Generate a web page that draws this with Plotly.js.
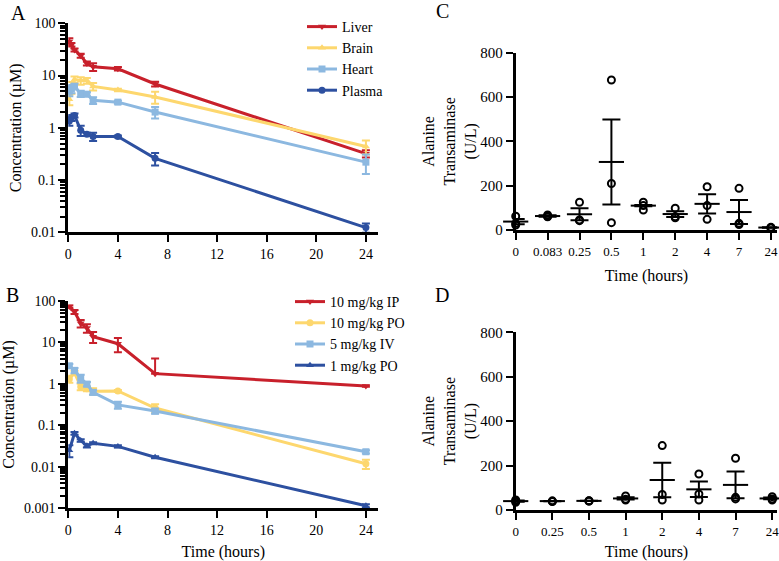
<!DOCTYPE html>
<html><head><meta charset="utf-8">
<script src="https://cdn.plot.ly/plotly-3.0.1.min.js"></script>
<style>html,body{margin:0;padding:0;background:#fff}#chart{width:779px;height:561px}</style>
</head><body><div id="chart"></div>
<script>
// ---------- Panel A data ----------
const timesA = [0.083, 0.25, 0.5, 1, 1.5, 2, 4, 7, 24];
const liver = [45, 39, 31, 24, 17, 14.7, 13.5, 6.9, 0.32];
const liverErr = [7, 3, 2, 2, 1.5, 2.5, 1, 0.7, 0.05];
const brain = [3.5, 6, 8.4, 8, 8, 6.2, 5.3, 3.9, 0.44];
const brainErr = [0.8, 1.5, 1.2, 1.3, 1, 1, 0.3, 1.0, 0.13];
const heart = [5, 5.6, 6.2, 4.5, 4.4, 3.35, 3.1, 2.0, 0.22];
const heartErr = [1.0, 1, 0.8, 0.6, 0.4, 0.5, 0.2, 0.5, 0.09];
const plasma = [1.35, 1.55, 1.72, 0.9, 0.75, 0.68, 0.68, 0.26, 0.0123];
const plasmaErr = [0.25, 0.2, 0.15, 0.2, 0.05, 0.12, 0.03, 0.07, 0.0025];
const namesA = ['Liver', 'Brain', 'Heart', 'Plasma'];

// ---------- Panel B data ----------
const timesB = [0.083, 0.5, 1, 1.5, 2, 4, 7, 24];
const ip10 = [72, 54, 28.5, 22, 13.6, 9.2, 1.75, 0.88];
const ip10ErrUp = [5, 6, 6, 5, 4, 3.5, 2.3, 0.03];
const ip10ErrDown = [5, 6, 6, 5, 4, 3.5, 0, 0.03];
const po10 = [1.3, 1.85, 0.85, 0.76, 0.66, 0.67, 0.26, 0.0118];
const po10Err = [0.25, 0.2, 0.15, 0.1, 0.12, 0.04, 0.06, 0.003];
const iv5 = [2.7, 2.1, 1.35, 0.98, 0.62, 0.31, 0.22, 0.023];
const iv5Err = [0.3, 0.3, 0.3, 0.12, 0.08, 0.06, 0.03, 0.002];
const po1 = [0.025, 0.064, 0.043, 0.032, 0.037, 0.031, 0.017, 0.00115];
const po1Err = [0.008, 0.005, 0.003, 0.003, 0.002, 0.002, 0.001, 0.0001];
const namesB = ['10 mg/kg IP', '10 mg/kg PO', '5 mg/kg IV', '1 mg/kg PO'];

// ---------- Panel C data (ALT, U/L) ----------
const catsC = ['0', '0.083', '0.25', '0.5', '1', '2', '4', '7', '24'];
const ptsC = [[62, 30, 22], [68, 60, 62], [125, 45, 42], [677, 210, 33], [125, 90, 110], [98, 60, 55], [195, 110, 48], [188, 30, 25], [12, 10, 10]];
const meanC = [38, 63, 71, 307, 110, 72, 118, 81, 11];
const semC = [12, 3, 27, 192, 3, 13, 43, 54, 1];

// ---------- Panel D data (ALT, U/L) ----------
const catsD = ['0', '0.25', '0.5', '1', '2', '4', '7', '24'];
const ptsD = [[45, 40, 35], [40, 40, 38], [42, 40, 40], [63, 45, 48], [290, 70, 45], [162, 72, 45], [233, 57, 50], [60, 45, 50]];
const meanD = [40, 40, 41, 52, 135, 93, 113, 52];
const semD = [3, 1, 1, 5, 78, 35, 60, 4];

// ---------- tick labels ----------
const timeTicks = [0, 4, 8, 12, 16, 20, 24];
const logTicksA = [0.01, 0.1, 1, 10, 100];
const logLabelsA = ['0.01', '0.1', '1', '10', '100'];
const logTicksB = [0.001, 0.01, 0.1, 1, 10, 100];
const logLabelsB = ['0.001', '0.01', '0.1', '1', '10', '100'];
const altTicks = [0, 200, 400, 600, 800];

const RED = '#C8202B', YEL = '#FDD76E', LBLUE = '#8CB8E0', DBLUE = '#2D50A0';
const FONT = 'Liberation Serif';

// unlabeled 2..9 ticks inside each decade
function minorOf(majors) {
  const v = [];
  majors.slice(0, -1).forEach(d => { for (let m = 2; m <= 9; m++) v.push(m * d); });
  return v;
}

function pkTrace(x, y, eUp, eDown, name, color, sym, xa, ya, legend) {
  return {
    type: 'scatter', mode: 'lines+markers', x: x, y: y, name: name,
    xaxis: xa, yaxis: ya, legend: legend, cliponaxis: false,
    line: {color: color, width: 3},
    marker: {color: color, symbol: sym, size: 7},
    error_y: {type: 'data', array: eUp, arrayminus: eDown, symmetric: false,
              color: color, thickness: 2, width: 4}
  };
}

const traces = [
  pkTrace(timesA, liver, liverErr, liverErr, namesA[0], RED, 'triangle-down', 'x', 'y', 'legend'),
  pkTrace(timesA, brain, brainErr, brainErr, namesA[1], YEL, 'triangle-up', 'x', 'y', 'legend'),
  pkTrace(timesA, heart, heartErr, heartErr, namesA[2], LBLUE, 'square', 'x', 'y', 'legend'),
  pkTrace(timesA, plasma, plasmaErr, plasmaErr, namesA[3], DBLUE, 'circle', 'x', 'y', 'legend'),
  pkTrace(timesB, ip10, ip10ErrUp, ip10ErrDown, namesB[0], RED, 'triangle-down', 'x2', 'y2', 'legend2'),
  pkTrace(timesB, po10, po10Err, po10Err, namesB[1], YEL, 'circle', 'x2', 'y2', 'legend2'),
  pkTrace(timesB, iv5, iv5Err, iv5Err, namesB[2], LBLUE, 'square', 'x2', 'y2', 'legend2'),
  pkTrace(timesB, po1, po1Err, po1Err, namesB[3], DBLUE, 'triangle-up', 'x2', 'y2', 'legend2')
];

function altTraces(cats, pts, mean, sem, xa, ya) {
  const px = [], py = [];
  cats.forEach((c, i) => pts[i].forEach(v => { px.push(c); py.push(v); }));
  return [
    {type: 'scatter', mode: 'markers', x: px, y: py, xaxis: xa, yaxis: ya, showlegend: false,
     cliponaxis: false,
     marker: {symbol: 'circle-open', size: 7, color: '#000', line: {color: '#000', width: 2}}},
    {type: 'scatter', mode: 'markers', x: cats, y: mean, xaxis: xa, yaxis: ya, showlegend: false,
     cliponaxis: false,
     marker: {symbol: 'line-ew-open', size: 18, color: '#000', line: {color: '#000', width: 2}},
     error_y: {type: 'data', array: sem, color: '#000', thickness: 2, width: 9}}
  ];
}
traces.push(...altTraces(catsC, ptsC, meanC, semC, 'x3', 'y3'));
traces.push(...altTraces(catsD, ptsD, meanD, semD, 'x4', 'y4'));

const axBase = {showline: true, linecolor: '#000', linewidth: 3, ticks: 'outside', ticklen: 7,
  tickwidth: 2, tickcolor: '#000', showgrid: false, zeroline: false,
  tickfont: {family: FONT, size: 14, color: '#000'}};
const titleFont = {family: FONT, size: 16, color: '#000'};

const W = 779, H = 561;
const dx = (a, b) => [a / W, b / W];
const dy = (top, bot) => [1 - bot / H, 1 - top / H];
const minorCfg = vals => ({tickmode: 'array', tickvals: vals, ticks: 'outside', ticklen: 5,
  tickwidth: 2, tickcolor: '#000', showgrid: false});

const layout = {
  width: W, height: H, margin: {l: 0, r: 0, t: 0, b: 0},
  paper_bgcolor: '#fff', plot_bgcolor: '#fff',
  font: {family: FONT, color: '#000'},
  xaxis: Object.assign({}, axBase, {domain: dx(68.3, 378.3), range: [0, 25], anchor: 'y',
    tickmode: 'array', tickvals: timeTicks}),
  yaxis: Object.assign({}, axBase, {domain: dy(23.3, 232.3), type: 'log', range: [-2, 2], anchor: 'x',
    tickmode: 'array', tickvals: logTicksA, ticktext: logLabelsA, minor: minorCfg(minorOf(logTicksA)),
    title: {text: 'Concentration (µM)', font: titleFont, standoff: 6}}),
  xaxis2: Object.assign({}, axBase, {domain: dx(68.3, 378.3), range: [0, 25], anchor: 'y2',
    tickmode: 'array', tickvals: timeTicks,
    title: {text: 'Time (hours)', font: titleFont, standoff: 13}}),
  yaxis2: Object.assign({}, axBase, {domain: dy(300.7, 508.3), type: 'log', range: [-3, 2], anchor: 'x2',
    tickmode: 'array', tickvals: logTicksB, ticktext: logLabelsB, minor: minorCfg(minorOf(logTicksB)),
    title: {text: 'Concentration (µM)', font: titleFont, standoff: 6}}),
  xaxis3: Object.assign({}, axBase, {domain: dx(515.7, 777.3), type: 'category', range: [0, 8.2], anchor: 'y3',
    categoryorder: 'array', categoryarray: catsC, tickfont: {family: FONT, size: 13, color: '#000'},
    title: {text: 'Time (hours)', font: titleFont, standoff: 13}}),
  yaxis3: Object.assign({}, axBase, {domain: dy(52.7, 230), range: [0, 800], anchor: 'x3',
    tickmode: 'array', tickvals: altTicks, tickfont: {family: FONT, size: 15, color: '#000'},
    title: {text: 'Alanine<br>Transaminase<br>(U/L)', font: titleFont, standoff: 0}}),
  xaxis4: Object.assign({}, axBase, {domain: dx(515.7, 777.3), type: 'category', range: [0, 7.14], anchor: 'y4',
    categoryorder: 'array', categoryarray: catsD, tickfont: {family: FONT, size: 13, color: '#000'},
    title: {text: 'Time (hours)', font: titleFont, standoff: 13}}),
  yaxis4: Object.assign({}, axBase, {domain: dy(332.3, 510), range: [0, 800], anchor: 'x4',
    tickmode: 'array', tickvals: altTicks, tickfont: {family: FONT, size: 15, color: '#000'},
    title: {text: 'Alanine<br>Transaminase<br>(U/L)', font: titleFont, standoff: 0}}),
  legend: {x: 302 / W, y: 1 - 11 / H, xanchor: 'left', yanchor: 'top', bgcolor: 'rgba(0,0,0,0)',
    font: {family: FONT, size: 14, color: '#000'}, tracegroupgap: 0},
  legend2: {x: 290 / W, y: 1 - 286 / H, xanchor: 'left', yanchor: 'top', bgcolor: 'rgba(0,0,0,0)',
    font: {family: FONT, size: 14, color: '#000'}, tracegroupgap: 0},
  annotations: [
    {text: 'A', x: 18 / W, y: 1 - 13 / H},
    {text: 'B', x: 12 / W, y: 1 - 295 / H},
    {text: 'C', x: 442 / W, y: 1 - 11 / H},
    {text: 'D', x: 442 / W, y: 1 - 295 / H}
  ].map(a => Object.assign(a, {xref: 'paper', yref: 'paper', xanchor: 'center', yanchor: 'middle',
    showarrow: false, font: {family: FONT, size: 20, color: '#000'}}))
};

Plotly.newPlot('chart', traces, layout, {displayModeBar: false, staticPlot: true});
</script></body></html>
